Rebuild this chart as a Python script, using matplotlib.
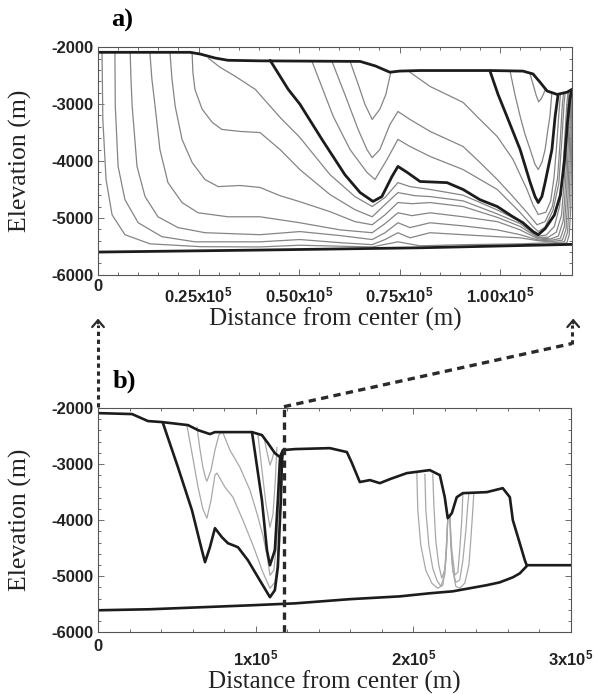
import matplotlib
matplotlib.use("Agg")
import matplotlib.pyplot as plt
from matplotlib.patches import FancyArrowPatch
from matplotlib.lines import Line2D

plt.rcParams['font.family'] = ['Liberation Sans', 'DejaVu Sans']
plt.rcParams['mathtext.default'] = 'regular'
plt.rcParams['axes.unicode_minus'] = False

# -------- panel a: profiles as (distance km, elevation m) --------
a_top = [(0, -2090), (22.9, -2090), (25.4, -2120), (29.1, -2190), (32.3, -2230), (40.3, -2240),
         (65.2, -2250), (69.0, -2330), (72.6, -2440), (75.0, -2420), (80.1, -2410), (97.5, -2410),
         (105.7, -2420), (108.2, -2470), (110.0, -2620), (111.7, -2770), (114.2, -2830),
         (116.7, -2790), (117.9, -2740)]
a_bottom = [(0, -5600), (40, -5565), (80, -5525), (117.9, -5465)]
a_thick1 = [(42.8, -2230), (47.3, -2740), (50.2, -3000), (55.7, -3620), (61.4, -4240), (65.2, -4555),
            (68.4, -4710), (70.6, -4625), (73.1, -4275), (74.6, -4095), (76.9, -4200), (80.1, -4360),
            (86.8, -4380), (90.8, -4500), (95.0, -4680), (99.3, -4800), (103.2, -4980), (105.7, -5085),
            (108.2, -5240), (109.5, -5295), (111.2, -5190), (113.5, -4950), (115.0, -4600),
            (116.0, -4000), (116.8, -3300), (117.4, -2900), (117.9, -2760)]
a_thick2 = [(97.5, -2420), (99.5, -2830), (101.7, -3215), (105.0, -3800), (107.5, -4380), (108.7, -4625),
            (109.5, -4730), (110.4, -4625), (111.2, -4380), (112.9, -3800), (113.7, -3215), (114.4, -2850)]
a_u1 = [(107.5, -2480), (108.2, -2650), (109.0, -2850), (109.6, -2960), (110.3, -2900), (111.0, -2790),
        (111.4, -2720)]
a_u2 = [(102.5, -2425), (103.7, -2830), (105.0, -3215), (106.2, -3530), (107.5, -3800), (108.7, -4060),
        (109.5, -4150), (110.4, -4025), (111.2, -3800), (111.9, -3445), (112.4, -3215), (112.9, -2790)]
a_r1 = [(77.1, -2415), (82.6, -2690), (90.8, -2970), (95.0, -3270), (99.3, -3570), (103.2, -3970),
        (106.7, -4500), (108.2, -4770), (109.5, -4940), (111.4, -4900), (112.6, -4700), (113.4, -4300),
        (114.0, -3800), (114.6, -3200), (115.0, -2840)]
a_u3 = [(62.7, -2250), (64.7, -2650), (66.4, -3005), (68.2, -3270), (70.1, -3090), (71.6, -2830),
        (72.8, -2450)]
a_m1 = [(58.2, -2250), (61.4, -2830), (64.7, -3445), (66.9, -3800), (68.2, -3940), (70.1, -3800),
        (72.6, -3360), (74.6, -3130), (77.6, -3270), (82.6, -3480), (90.8, -3745), (95.0, -4025),
        (99.3, -4325), (103.2, -4625), (106.7, -4905), (109.2, -5120), (111.2, -5065), (113.0, -4800),
        (114.3, -4300), (115.0, -3600), (115.5, -3000), (115.8, -2810)]
a_m2 = [(53.2, -2245), (58.5, -3215), (62.7, -3800), (66.9, -4200), (68.9, -4325), (71.9, -3970),
        (74.6, -3620), (77.6, -3745), (82.6, -3920), (90.8, -4150), (99.3, -4500), (105.0, -4905),
        (108.2, -5155), (109.5, -5240), (111.2, -5160), (113.2, -4860), (114.6, -4400), (115.4, -3600),
        (115.9, -3000), (116.2, -2800)]
a_l7 = [(27.4, -2190), (30.3, -2350), (34.1, -2510), (39.1, -2740), (45.3, -3235), (50.2, -3585),
        (57.7, -4240), (63.9, -4625), (68.2, -4800), (71.4, -4640), (74.6, -4380), (77.6, -4450),
        (82.6, -4500), (90.8, -4600), (99.3, -4860), (105.0, -5060), (108.2, -5260), (109.5, -5320),
        (111.5, -5300), (113.5, -5150), (114.8, -4800), (115.6, -4200), (116.1, -3600), (116.6, -3000),
        (116.9, -2790)]
a_l6 = [(23.4, -2100), (23.6, -2440), (24.1, -2740), (25.9, -3090), (28.4, -3320), (30.8, -3445),
        (35.3, -3480), (40.3, -3500), (45.3, -3800), (50.2, -4150), (57.7, -4590), (63.9, -4855),
        (68.2, -4980), (71.4, -4765), (74.6, -4555), (78.9, -4610), (82.6, -4625), (90.8, -4700),
        (99.3, -4930), (105.0, -5100), (108.2, -5270), (109.5, -5340), (112.0, -5340), (114.0, -5250),
        (115.3, -4950), (116.0, -4300), (116.4, -3600), (116.9, -3000), (117.1, -2780)]
a_l5 = [(17.9, -2090), (18.4, -2560), (19.2, -3040), (20.9, -3620), (23.4, -4025), (26.6, -4325),
        (29.9, -4450), (35.3, -4430), (40.3, -4465), (45.3, -4610), (50.2, -4715), (57.7, -4890),
        (63.9, -5065), (68.2, -5120), (71.4, -4945), (74.6, -4730), (78.1, -4750), (82.6, -4730),
        (90.8, -4800), (99.3, -4990), (105.0, -5150), (109.5, -5350), (112.5, -5370), (114.5, -5320),
        (115.7, -5050), (116.3, -4400), (116.7, -3600), (117.1, -3000), (117.3, -2770)]
a_l4 = [(12.9, -2090), (13.4, -2560), (14.2, -3040), (15.4, -3800), (17.4, -4380), (20.9, -4730),
        (24.9, -4910), (32.3, -4980), (40.3, -4980), (50.2, -5085), (60.2, -5210), (68.2, -5260),
        (71.4, -5100), (74.6, -4910), (78.1, -4960), (82.6, -4910), (90.8, -4980), (99.3, -5065),
        (105.0, -5210), (109.5, -5370), (113.0, -5390), (115.0, -5360), (116.0, -5150), (116.6, -4500),
        (117.0, -3600), (117.3, -3000), (117.5, -2760)]
a_l3 = [(8.0, -2090), (8.2, -2560), (8.5, -3040), (9.7, -4095), (11.7, -4625), (14.9, -4980),
        (19.9, -5170), (26.6, -5260), (40.3, -5295), (50.2, -5240), (60.2, -5310), (68.2, -5380),
        (71.4, -5260), (74.6, -5085), (77.6, -5170), (82.6, -5085), (90.8, -5140), (99.3, -5210),
        (105.0, -5295), (109.5, -5390), (113.5, -5410), (115.5, -5390), (116.4, -5200), (116.9, -4600),
        (117.3, -3600), (117.6, -3000), (117.7, -2750)]
a_l2 = [(4.2, -2090), (4.3, -3040), (5.0, -4095), (6.7, -4680), (10.0, -5085), (15.9, -5330),
        (24.1, -5420), (40.3, -5420), (50.2, -5380), (60.2, -5435), (68.2, -5470), (71.4, -5380),
        (74.6, -5260), (77.6, -5350), (82.6, -5260), (90.8, -5295), (99.3, -5330), (105.0, -5350),
        (109.5, -5400), (114.0, -5430), (116.0, -5420), (116.8, -5250), (117.2, -4700), (117.6, -3600),
        (117.8, -3000), (117.9, -2745)]
a_l1 = [(1.0, -2090), (1.2, -3270), (2.0, -4325), (3.5, -4945), (6.7, -5295), (12.9, -5455),
        (25.4, -5505), (40.3, -5510), (50.2, -5480), (68.2, -5510), (74.6, -5420), (80.1, -5490),
        (90.8, -5470), (105.0, -5455), (111.2, -5440), (115.0, -5450), (116.6, -5440), (117.2, -5300),
        (117.6, -4800), (117.8, -3800), (117.9, -3200)]

# -------- panel b --------
b_top = [(0, -2090), (21.6, -2107), (31.7, -2232), (40.6, -2250), (57.1, -2304), (63.4, -2393),
         (71.0, -2464), (74.2, -2429), (97.7, -2429), (104.0, -2482), (107.8, -2625), (112.2, -2804),
         (115.4, -2875), (117.3, -2750), (124.9, -2732), (147.1, -2715), (157.9, -2785), (161.1, -2980),
         (166.1, -3320), (172.5, -3285), (178.8, -3340), (185.2, -3268), (195.9, -3161), (210.5, -3107),
         (216.9, -3197), (220.0, -3590), (221.9, -3965), (224.5, -3875), (227.6, -3590), (231.5, -3518),
         (246.7, -3500), (256.8, -3429), (261.3, -3590), (263.2, -4000), (267.6, -4411), (270.8, -4715),
         (272.0, -4804), (300.0, -4804)]
b_bottom = [(0, -5608), (33.0, -5590), (64.7, -5555), (96.4, -5520), (124.9, -5485), (159.8, -5410),
            (191.5, -5360), (210.5, -5305), (225.1, -5270), (235.9, -5215), (246.7, -5160),
            (254.9, -5110), (263.2, -5020), (267.6, -4950), (272.0, -4820)]
b_thick1 = [(41.2, -2268), (50.7, -3054), (59.6, -3822), (65.9, -4536), (67.9, -4750), (71.0, -4483),
            (74.2, -4143), (78.6, -4304), (82.4, -4411), (88.8, -4483), (95.1, -4715), (101.5, -5018),
            (107.2, -5286), (109.1, -5375), (112.2, -5250), (114.1, -4840), (116.0, -3643),
            (116.7, -2929), (117.3, -2786)]
b_thick2 = [(97.7, -2429), (104.0, -3643), (107.2, -4536), (109.1, -4804), (112.2, -4536),
            (114.1, -3643), (115.4, -2929), (115.7, -2875)]
b_g1 = [(62.8, -2340), (64.5, -2700), (66.5, -3050), (68.2, -3250), (69.1, -3304), (71.7, -3107),
        (74.2, -2750), (76.7, -2482), (78.0, -2440)]
b_g2 = [(56.4, -2304), (59.6, -2800), (63.4, -3400), (66.5, -3800), (69.1, -3965), (71.7, -3645),
        (74.2, -3195), (75.5, -3160), (80.5, -3410), (85.6, -3590), (91.9, -4000), (98.3, -4445),
        (104.6, -4930), (109.1, -5215), (112.2, -5110), (114.1, -4715), (115.4, -4000), (116.7, -3285),
        (117.3, -2840)]
b_g3 = [(79.3, -2446), (83.7, -2750), (90.0, -3054), (96.4, -3464), (100.8, -3875), (104.6, -4268),
        (107.2, -4625), (109.1, -4983), (111.6, -4893), (113.5, -4357), (114.8, -3643), (116.0, -2929)]
b_g4 = [(105.3, -2520), (107.2, -2786), (109.1, -3018), (110.3, -2930), (111.6, -2786)]
b_g5 = [(101.5, -2480), (104.0, -3100), (106.5, -3700), (109.1, -4125), (111.0, -3900), (112.5, -3300),
        (113.5, -2700)]
b_c1 = [(202.3, -3160), (202.9, -3820), (204.8, -4450), (208.0, -4895), (211.8, -5125), (215.6, -5215),
        (218.8, -5160), (220.7, -4715), (221.3, -4270), (221.9, -3965)]
b_c2 = [(207.4, -3180), (208.0, -3820), (209.9, -4450), (212.4, -4860), (215.0, -5070), (217.5, -5180),
        (220.0, -4980), (221.3, -4450), (221.9, -4000)]
b_c3 = [(212.4, -3180), (213.1, -3730), (214.3, -4360), (216.2, -4800), (218.1, -5035), (220.0, -4890),
        (221.3, -4360), (221.9, -4000)]
b_c4 = [(223.2, -3910), (223.8, -4360), (225.1, -4890), (227.0, -5180), (229.5, -5215), (232.7, -5125),
        (235.3, -4805), (236.5, -4360), (237.8, -3820), (238.4, -3535)]
b_c5 = [(223.2, -3910), (223.8, -4450), (225.1, -4890), (227.0, -5110), (229.5, -5070), (231.5, -4715),
        (233.4, -4180), (234.6, -3730), (235.3, -3535)]
b_c6 = [(223.2, -3910), (224.5, -4535), (226.4, -4980), (228.3, -4930), (229.5, -4535), (230.8, -4000),
        (231.5, -3535)]

a_xmax_km = 117.9
a_ticks_km = [25, 50, 75, 100]
a_ticklabels = ['0.25x10$^5$', '0.50x10$^5$', '0.75x10$^5$', '1.00x10$^5$']
b_ticks_km = [100, 200, 300]
b_ticklabels = ['1x10$^5$', '2x10$^5$', '3x10$^5$']
y_ticks = [-2000, -3000, -4000, -5000, -6000]

THICK = '#1c1c1c'
GRAY_A = '#858585'
GRAY_B = '#a8a8a8'
SERIF = 'Liberation Serif'


def draw(ax, pts, **kw):
    ax.plot([p[0] * 1000 for p in pts], [p[1] for p in pts], solid_capstyle='round',
            solid_joinstyle='round', **kw)


def style(ax, xmax, xticks, xlabels, xminor, pad_major, pad_zero):
    ax.set_xlim(0, xmax)
    ax.set_ylim(-6000, -2000)
    ax.set_xticks([t * 1000 for t in xticks], labels=xlabels)
    ax.set_xticks([t * 1000 for t in xminor], minor=True,
                  labels=['0'] + [''] * (len(xminor) - 1))
    ax.set_yticks(y_ticks, labels=[str(v) for v in y_ticks])
    ax.set_yticks(list(range(-6000, -1999, 200)), minor=True)
    ax.tick_params(which='both', direction='in', top=True, right=True, width=0.6, color='#555555',
                   labelsize=12, labelcolor='#222222')
    ax.tick_params(which='major', length=4)
    ax.tick_params(which='minor', length=2.5)
    ax.tick_params(axis='x', which='major', pad=pad_major)
    ax.tick_params(axis='x', which='minor', pad=pad_zero)
    ax.tick_params(axis='y', pad=3)
    for lab in ax.get_xticklabels() + ax.get_yticklabels() + ax.get_xticklabels(minor=True):
        lab.set_fontweight('bold')
    for s in ax.spines.values():
        s.set_color('#555555')
        s.set_linewidth(0.8)
    ax.set_xlabel('Distance from center (m)', family=SERIF, fontsize=18, color='#222222')
    ax.set_ylabel('Elevation (m)', family=SERIF, fontsize=18.5, color='#222222')


fig = plt.figure(figsize=(5.94, 6.94), dpi=100)
ax_a = fig.add_axes([0.165, 0.604, 0.798, 0.328])
ax_b = fig.add_axes([0.165, 0.089, 0.796, 0.323])

for c in [a_u1, a_u2, a_r1, a_u3, a_m1, a_m2, a_l7, a_l6, a_l5, a_l4, a_l3, a_l2, a_l1]:
    draw(ax_a, c, color=GRAY_A, lw=0.9)
for c in [a_top, a_bottom, a_thick1, a_thick2]:
    draw(ax_a, c, color=THICK, lw=2.0)

for c in [b_g1, b_g2, b_g3, b_g4, b_g5, b_c1, b_c2, b_c3, b_c4, b_c5, b_c6]:
    draw(ax_b, c, color=GRAY_B, lw=0.9)
for c in [b_top, b_bottom, b_thick1, b_thick2]:
    draw(ax_b, c, color=THICK, lw=1.9)

style(ax_a, a_xmax_km * 1000, a_ticks_km, a_ticklabels, list(range(0, 118, 5)), 8, 3)
style(ax_b, 300000, b_ticks_km, b_ticklabels, list(range(0, 301, 20)), 12, 5)
ax_a.xaxis.set_label_coords(0.5, -0.145)
ax_b.xaxis.set_label_coords(0.5, -0.17)
ax_a.yaxis.set_label_coords(-0.14, 0.5)
ax_b.yaxis.set_label_coords(-0.14, 0.5)

# dashed zoom marker: panel a covers 0 .. a_xmax in panel b
ax_b.axvline(a_xmax_km * 1000, color='#2a2a2a', lw=2.4, ls=(0, (2.2, 1.6)), clip_on=False)

dot = dict(color='#2a2a2a', lw=2.2, ls=(0, (1.4, 1.2)), transform=fig.transFigure)
fig.add_artist(Line2D([0.165, 0.165], [0.414, 0.532], **dot))
fig.add_artist(Line2D([0.478, 0.963], [0.414, 0.505], color='#2a2a2a', lw=2.4,
                      ls=(0, (2.2, 1.6)), transform=fig.transFigure))
fig.add_artist(Line2D([0.963, 0.963], [0.505, 0.532], **dot))
for xf in [0.165, 0.965]:
    fig.add_artist(FancyArrowPatch((xf, 0.530), (xf, 0.545), transform=fig.transFigure,
                                   arrowstyle='->,head_length=0.35,head_width=0.3',
                                   mutation_scale=14, color='#2a2a2a', lw=1.6))

fig.text(0.205, 0.970, 'a)', family=SERIF, fontsize=19, fontweight='bold', ha='center', va='center')
fig.text(0.210, 0.450, 'b)', family=SERIF, fontsize=19, fontweight='bold', ha='center', va='center')

fig.savefig('out.png', dpi=100)
